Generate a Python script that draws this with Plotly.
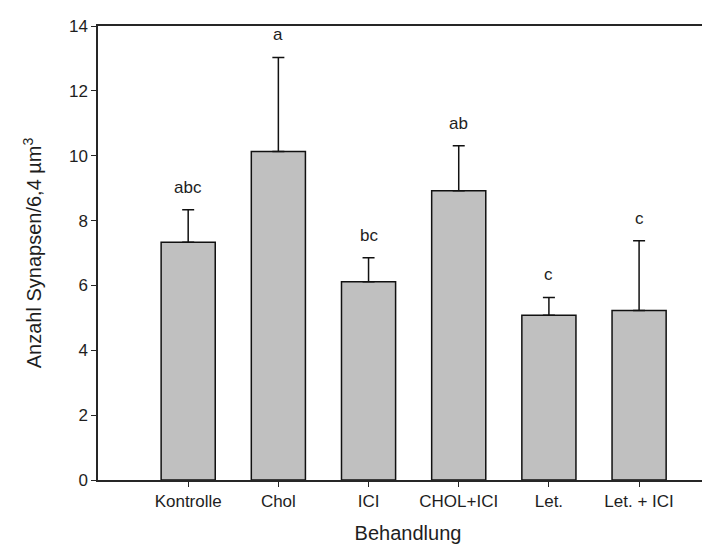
import plotly.graph_objects as go

categories = ["Kontrolle", "Chol", "ICI", "CHOL+ICI", "Let.", "Let. + ICI"]
means = [7.33, 10.13, 6.11, 8.92, 5.08, 5.23]
errors = [1.00, 2.90, 0.74, 1.39, 0.55, 2.15]
letters = ["abc", "a", "bc", "ab", "c", "c"]
y_ticks = [0, 2, 4, 6, 8, 10, 12, 14]

FONT = "Liberation Sans, Arial, sans-serif"
AXIS = "#262626"
TXT = "#1e1e1e"

fig = go.Figure()
fig.add_trace(go.Bar(
    x=list(range(len(categories))),
    y=means,
    width=0.6,
    marker=dict(color="#c0c0c0", line=dict(color="#111111", width=1.5)),
    error_y=dict(type="data", symmetric=False, array=errors,
                 arrayminus=[0] * len(errors),
                 color="#111111", thickness=1.5, width=6),
    showlegend=False,
))

for i, (m, e, t) in enumerate(zip(means, errors, letters)):
    fig.add_annotation(x=i, y=m + e, text=t, showarrow=False,
                       xref="x", yref="y", yanchor="bottom", yshift=11,
                       font=dict(family=FONT, size=17, color=TXT))

fig.update_layout(
    width=710, height=550,
    margin=dict(l=90, r=0, t=18, b=78),
    paper_bgcolor="white", plot_bgcolor="white",
    font=dict(family=FONT, size=17, color=TXT),
    bargap=0.4,
)
fig.update_xaxes(
    range=[-1.0, 5.875],
    tickmode="array", tickvals=list(range(len(categories))), ticktext=categories,
    showline=True, linecolor=AXIS, linewidth=1.5, mirror=True,
    ticks="outside", ticklen=5, tickcolor=AXIS, tickwidth=1,
    showgrid=False, zeroline=False,
    tickfont=dict(family=FONT, size=17, color=TXT),
    title=dict(text="Behandlung", font=dict(family=FONT, size=20, color=TXT), standoff=16),
)
fig.update_yaxes(
    range=[0, 14],
    tickmode="array", tickvals=y_ticks,
    showline=True, linecolor=AXIS, linewidth=1.5,
    ticks="outside", ticklen=5, tickcolor=AXIS, tickwidth=1,
    showgrid=False, zeroline=False,
    tickfont=dict(family=FONT, size=17, color=TXT),
    title=dict(text="Anzahl Synapsen/6,4 µm<sup>3</sup>",
               font=dict(family=FONT, size=20, color=TXT), standoff=22),
)

fig.write_html("out.html")
